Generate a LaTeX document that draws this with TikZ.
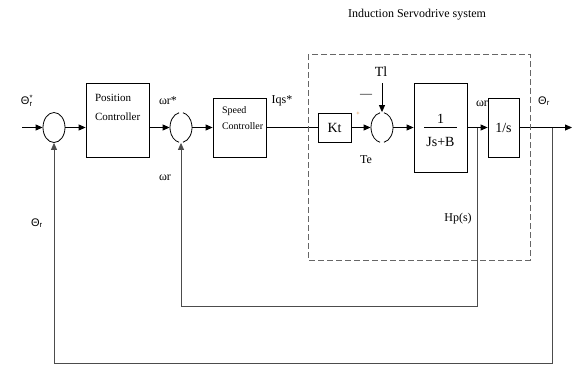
\documentclass[tikz,border=0pt]{standalone}
\usepackage{fontspec}
\setmainfont{Liberation Serif}
\newfontfamily\thetafont{Liberation Sans}
\usetikzlibrary{arrows.meta,shapes.geometric,calc}
\newcommand\thetar{{\thetafont\fontsize{11}{13}\selectfont Θ\textsubscript{r}}}

\begin{document}
\begin{tikzpicture}[x=1pt,y=-1pt,line width=0.8pt,>={Triangle[length=7pt,width=6pt]},
  box/.style={draw,inner sep=0pt},
  sumj/.style={ellipse,minimum width=22pt,minimum height=30pt,inner sep=0pt},
  fb/.style={draw=black!70},
  hpbox/.style={draw=black!60,dash pattern=on 6pt off 3pt},
  lbl/.style={font=\fontsize{12}{14}\selectfont,inner sep=0pt}]
\useasboundingbox (0,0) rectangle (572,365);
\coordinate (ref) at (22,127.5); \coordinate (outp) at (572,127.5);
\coordinate (tl) at (382,83);
\coordinate (bo) at (552,127.5); \coordinate (bo2) at (54,363);
\coordinate (bi) at (477,127.5); \coordinate (bi2) at (181,306);
\node[sumj,draw] (s1) at (54,127.5) {};
\node[box,minimum width=63,minimum height=74] (pc) at (117.5,120) {};
\node[sumj] (s2) at (181,127.5) {};
\node[box,minimum width=53,minimum height=59] (sc) at (239.5,127.5) {};
\node[box,minimum width=33,minimum height=29,font=\fontsize{14}{16}\selectfont] (kt) at (334.5,127.5) {Kt};
\node[sumj] (s3) at (382,127.5) {};
\node[box,minimum width=53,minimum height=89] (pl) at (440.5,127.5) {};
\node[box,minimum width=31,minimum height=59,font=\fontsize{14}{16}\selectfont] (it) at (503.5,127.5) {1/s};
\foreach \s in {s2,s3}{
  \draw (\s.center) ++(100:11pt and 15pt) arc[start angle=100,end angle=260,x radius=11pt,y radius=15pt];
  \draw (\s.center) ++(-80:11pt and 15pt) arc[start angle=-80,end angle=80,x radius=11pt,y radius=15pt];
}
\node[anchor=north west,align=left,inner sep=0pt,font=\fontsize{11}{19}\selectfont] (pct) at ($(pc.north west)+(9,11)$) {Position\\Controller};
\node[anchor=north west,align=left,inner sep=0pt,font=\fontsize{10}{16}\selectfont] (sct) at ($(sc.north west)+(9,9)$) {Speed\\Controller};
\node[font=\fontsize{14}{16}\selectfont,inner sep=0pt] (one) at (440.5,119) {1};
\node[font=\fontsize{14}{16}\selectfont,inner sep=0pt] (jsb) at (440.5,142) {Js+B};
\draw (424,127) -- (457,127);
\draw[->] (ref) -- (s1);
\draw[->] (s1) -- (s1 -| pc.west);
\draw[->] (s1 -| pc.east) -- (s2);
\draw[->] (s2) -- (sc);
\draw (sc) -- (kt);
\draw[->] (kt) -- (s3);
\draw[->] (s3) -- (pl);
\draw[->] (pl) -- (it);
\draw[->] (it) -- (outp);
\draw[->] (tl) -- (s3.north);
\draw[fb,->] (bo) |- (bo2) -- (s1.south);
\draw[fb,->] (bi) |- (bi2) -- (s2.south);
\draw[hpbox] (308,54) rectangle (530,260);
\node[lbl] (ttl) at (417,15) {Induction Servodrive system};
\node[inner sep=0pt] (t1) at (27,101) {{\thetafont\fontsize{11}{13}\selectfont Θ\rlap{\textsubscript{r}}\textsuperscript{*}}};
\node[lbl] (w1) at (168,101) {ωr*};
\node[lbl] (w2) at (165,178) {ωr};
\node[lbl] (iq) at (282,101) {Iqs*};
\node[font=\fontsize{14}{16}\selectfont,inner sep=0pt] (tlt) at (381,72) {Tl};
\node[lbl] (mn) at (366,96) {—};
\node[font=\fontsize{6}{7}\selectfont,text=orange!80!black,inner sep=0pt] (pl1) at (358,114) {+};
\node[lbl] (te) at (366,160) {Te};
\node[lbl] (w3) at (482,104) {ωr};
\node[inner sep=0pt] (t2) at (544,101) {\thetar};
\node[inner sep=0pt] (t3) at (37,223) {\thetar};
\node[lbl] (hp) at (458,219) {Hp(s)};
\end{tikzpicture}
\end{document}
